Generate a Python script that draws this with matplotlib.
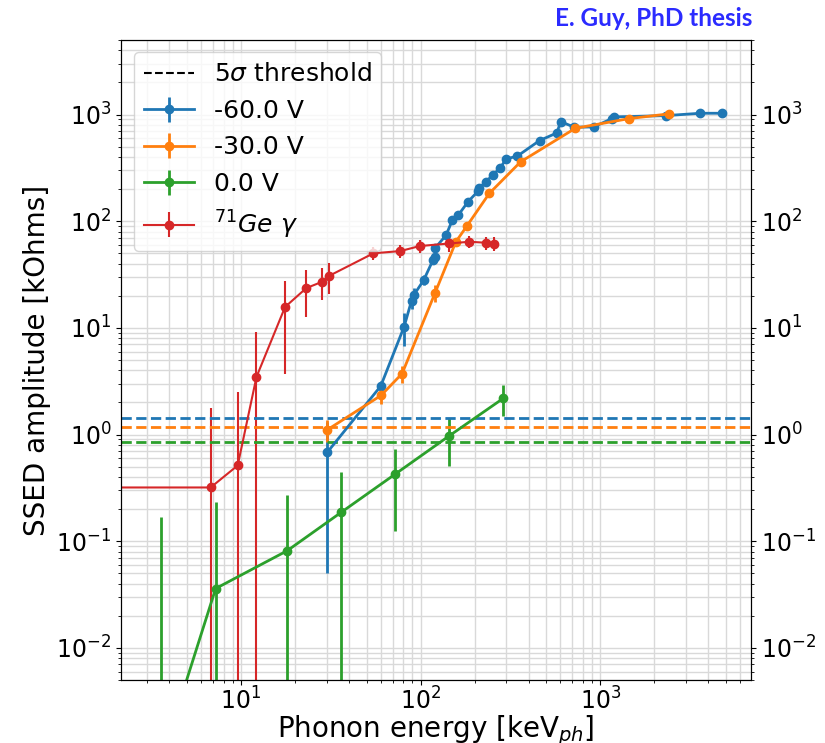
import numpy as np
import matplotlib.pyplot as plt

# -60 V
x_m60 = [30.2, 60.0, 81.0, 89.0, 92.0, 104.0, 117.0, 120.5, 121.0, 138.6, 150.0, 162.0, 184.0,
         208.0, 212.0, 231.0, 254.0, 277.0, 300.0, 345.0, 459.0, 574.0, 601.0, 717.0, 919.0,
         1161.0, 1197.0, 2324.0, 3606.0, 4762.0]
y_m60 = [0.68, 2.85, 10.3, 18.0, 20.5, 28.0, 43.0, 46.5, 56.5, 74.0, 102.0, 114.0, 153.0,
         190.0, 205.0, 235.0, 274.0, 316.0, 384.0, 407.0, 570.0, 673.0, 860.0, 760.0, 765.0,
         916.0, 950.0, 977.0, 1028.0, 1028.0]
e_m60 = [0.63, 0.35, 3.5, 3.0, 3.0, 3.0, 3.0, 3.0, 3.0, 3.0, 3.0, 3.0, 3.0,
         3.0, 3.0, 3.0, 3.0, 3.0, 3.0, 3.0, 3.0, 3.0, 3.0, 3.0, 3.0,
         3.0, 3.0, 3.0, 3.0, 3.0]

# -30 V
x_m30 = [30.3, 60.3, 78.9, 120.5, 157.0, 181.6, 241.0, 360.0, 726.0, 1446.0, 2404.0]
y_m30 = [1.11, 2.33, 3.73, 21.4, 64.0, 91.0, 182.0, 360.0, 743.0, 916.0, 1014.0]
e_m30 = [0.25, 0.4, 0.7, 4.0, 3.0, 3.0, 3.0, 3.0, 3.0, 3.0, 3.0]

# 0 V
x_0 = [3.61, 7.23, 18.1, 36.2, 72.1, 144.0, 289.0]
y_0 = [0.0009, 0.036, 0.0815, 0.187, 0.425, 0.97, 2.19]
e_0 = [0.167, 0.195, 0.19, 0.26, 0.3, 0.46, 0.7]

# 71Ge gamma
x_ge = [1.0, 6.78, 9.59, 12.2, 17.6, 23.1, 28.4, 30.8, 54.6, 77.1, 99.0, 144.0, 187.0, 231.0, 255.0]
y_ge = [0.319, 0.319, 0.513, 3.47, 15.7, 23.6, 27.1, 30.6, 50.0, 52.5, 58.5, 61.8, 64.2, 62.8, 61.4]
e_ge = [1.47, 1.47, 2.0, 5.7, 12.0, 11.0, 9.0, 10.0, 7.0, 7.0, 8.0, 10.0, 8.0, 9.0, 9.0]

# 5 sigma thresholds
thr = {'C0': 1.43, 'C1': 1.17, 'C2': 0.86}

plt.rcParams['font.family'] = 'DejaVu Sans'
plt.rcParams['font.size'] = 17

fig = plt.figure(figsize=(8.25, 7.43), dpi=100)
ax = fig.add_axes([0.1467, 0.0848, 0.7636, 0.8614])

ax.plot([], [], 'k--', label=r'5$\sigma$ threshold')
ax.errorbar(x_m60, y_m60, yerr=e_m60, fmt='o-', color='C0', ms=6, lw=2, label='-60.0 V')
ax.errorbar(x_m30, y_m30, yerr=e_m30, fmt='o-', color='C1', ms=6, lw=2, label='-30.0 V')
ax.errorbar(x_0, y_0, yerr=e_0, fmt='o-', color='C2', ms=6, lw=2, label='0.0 V')
ax.errorbar(x_ge, y_ge, yerr=e_ge, fmt='o-', color='C3', ms=6, lw=1.5, label=r'$^{71}Ge\ \gamma$')
for c, v in thr.items():
    ax.axhline(v, color=c, ls='--', lw=2)

ax.set_xscale('log')
ax.set_yscale('log')
ax.set_xlim(2.15, 6900)
ax.set_ylim(5e-3, 5e3)
ax.grid(which='both', color='#d9d9d9', lw=1)
ax.set_xlabel(r'Phonon energy [keV$_{ph}$]', fontsize=20, labelpad=-1)
ax.set_ylabel('SSED amplitude [kOhms]', fontsize=20)
ax.tick_params(axis='x', pad=2)
ax.legend(loc='upper left', fontsize=18)

ax2 = ax.twinx()
ax2.set_yscale('log')
ax2.set_ylim(ax.get_ylim())

fig.text(0.912, 0.99, 'E. Guy, PhD thesis', color='#2b2bff', fontsize=17.5, fontweight='bold',
         family='Lato', ha='right', va='top')

plt.savefig('out.png')
